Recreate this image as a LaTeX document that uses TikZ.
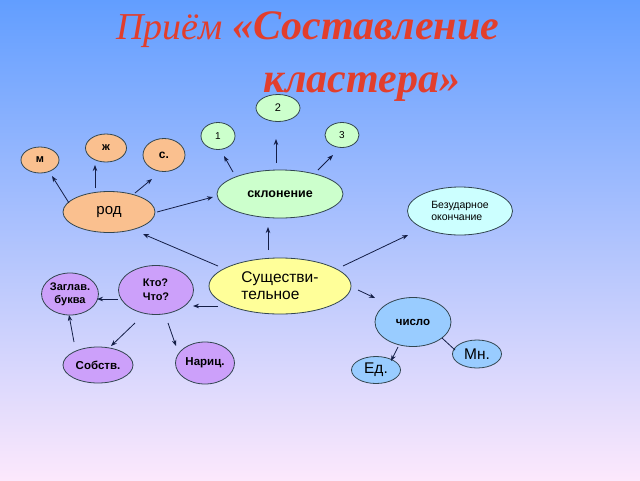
\documentclass[tikz,border=0pt]{standalone}
\usepackage{fontspec}
\setmainfont{Liberation Sans}
\newfontfamily\titlefont{Liberation Serif}
\usetikzlibrary{shapes.geometric,arrows.meta,calc}
\definecolor{bgtop}{RGB}{98,158,255}
\definecolor{bgmid}{RGB}{168,192,252}
\definecolor{bgbot}{RGB}{252,232,252}
\definecolor{titlec}{RGB}{226,62,44}
\definecolor{orangef}{RGB}{250,192,143}
\definecolor{greenf}{RGB}{204,255,204}
\definecolor{cyanf}{RGB}{204,255,255}
\definecolor{yellowf}{RGB}{255,255,153}
\definecolor{violetf}{RGB}{204,160,250}
\definecolor{bluef}{RGB}{153,204,255}
\definecolor{edgec}{RGB}{50,70,80}
\definecolor{arrc}{RGB}{20,30,70}
\begin{document}
\begin{tikzpicture}[x=1pt,y=-1pt,
  bub/.style={ellipse,draw=edgec,line width=0.8pt,inner sep=0pt,align=center},
  arr/.style={-{Stealth[length=6pt,width=4.5pt]},draw=arrc,line width=0.8pt},
  plain/.style={draw=arrc,line width=0.8pt},
  titletext/.style={anchor=base west,inner sep=0pt,text=titlec}]
\shade[top color=bgtop,middle color=bgmid,bottom color=bgbot] (0,0) rectangle (640,480);
\useasboundingbox (0,0) rectangle (640,480);
% title
\node[titletext,font=\titlefont\fontsize{38}{44}\selectfont] (t1) at (116,39)
  {\itshape Приём {\fontsize{42}{48}\selectfont\bfseries«Составление}};
\node[titletext,font=\titlefont\fontsize{42}{48}\selectfont\bfseries\itshape] (t2) at (263,92)
  {кластера»};
% nodes
\node[bub,fill=greenf,minimum width=44,minimum height=27,font=\fontsize{11}{13}\selectfont] (n2) at (278,108) {2};
\node[bub,fill=greenf,minimum width=34,minimum height=27,font=\fontsize{10}{12}\selectfont] (n1) at (218,136) {1};
\node[bub,fill=greenf,minimum width=34,minimum height=25,font=\fontsize{10}{12}\selectfont] (n3) at (342,135) {3};
\node[bub,fill=orangef,minimum width=38,minimum height=26,font=\bfseries\fontsize{11}{13}\selectfont] (m) at (40,160) {м};
\node[bub,fill=orangef,minimum width=41,minimum height=28,font=\bfseries\fontsize{11}{13}\selectfont] (zh) at (106,148) {ж};
\node[bub,fill=orangef,minimum width=42,minimum height=33,font=\bfseries\fontsize{12}{14}\selectfont] (s) at (164,155) {с.};
\node[bub,fill=orangef,minimum width=92,minimum height=41,font=\fontsize{15}{17}\selectfont] (rod) at (109,212) {род};
\node[bub,fill=greenf,minimum width=126,minimum height=48,font=\bfseries\fontsize{12.5}{15}\selectfont] (skl) at (280,194) {склонение};
\node[bub,fill=cyanf,minimum width=105,minimum height=48,align=left,font=\fontsize{10.5}{12.5}\selectfont] (bez) at (460,211) {Безударное\\окончание};
\node[bub,fill=yellowf,minimum width=142,minimum height=56,align=left,font=\fontsize{15.5}{17}\selectfont] (sus) at (280,286) {Существи-\\тельное};
\node[bub,fill=violetf,minimum width=55,minimum height=42,font=\bfseries\fontsize{11}{13}\selectfont] (zag) at (70,294) {Заглав.\\буква};
\node[bub,fill=violetf,minimum width=75,minimum height=49,align=left,font=\bfseries\fontsize{11}{14}\selectfont] (kto) at (156,290) {Кто?\\Что?};
\node[bub,fill=violetf,minimum width=70,minimum height=36,font=\bfseries\fontsize{11.5}{13}\selectfont] (sob) at (98,365) {Собств.};
\node[bub,fill=violetf,minimum width=59,minimum height=42,font=\bfseries\fontsize{11.5}{13}\selectfont] (nar) at (205,363) {Нариц.};
\node[bub,fill=bluef,minimum width=76,minimum height=49,font=\bfseries\fontsize{11.5}{13}\selectfont] (chis) at (413,322) {число};
\node[bub,fill=bluef,minimum width=49,minimum height=28,font=\fontsize{15.5}{17}\selectfont] (mn) at (477,354) {Мн.};
\node[bub,fill=bluef,minimum width=49,minimum height=27,font=\fontsize{15.5}{17}\selectfont] (ed) at (376,370) {Ед.};
% connectors
\draw[arr] ($(rod)+(-40,-9)$) -- ($(m)+(12,16)$);
\draw[arr] ($(rod)+(-14,-24)$) -- ($(zh)+(-11,17)$);
\draw[arr] ($(rod)+(26,-19)$) -- ($(s)+(-12,24)$);
\draw[arr] ($(rod)+(48,0)$) -- ($(skl)+(-67,3)$);
\draw[arr] ($(skl)+(-47,-22)$) -- ($(n1)+(6,20)$);
\draw[arr] ($(skl)+(-4,-31)$) -- ($(n2)+(-2,31)$);
\draw[arr] ($(skl)+(38,-24)$) -- ($(n3)+(-9,20)$);
\draw[arr] ($(sus)+(-12,-36)$) -- ($(skl)+(-12,33)$);
\draw[arr] ($(sus)+(-62,-20)$) -- ($(rod)+(34,22)$);
\draw[arr] ($(sus)+(63,-20)$) -- ($(bez)+(-52,24)$);
\draw[arr] ($(sus)+(-62,20)$) -- ($(kto)+(37,16)$);
\draw[arr] ($(kto)+(-38,9)$) -- ($(zag)+(27,5)$);
\draw[arr] ($(sob)+(-24,-23)$) -- ($(zag)+(-1,21)$);
\draw[arr] ($(kto)+(-21,33)$) -- ($(sob)+(13,-19)$);
\draw[arr] ($(kto)+(12,33)$) -- ($(nar)+(-29,-17)$);
\draw[arr] ($(sus)+(78,4)$) -- ($(chis)+(-38,-24)$);
\draw[arr] ($(chis)+(-15,25)$) -- ($(ed)+(15,-9)$);
\draw[plain] ($(chis)+(29,16)$) -- ($(mn)+(-22,-4)$);
\end{tikzpicture}
\end{document}
